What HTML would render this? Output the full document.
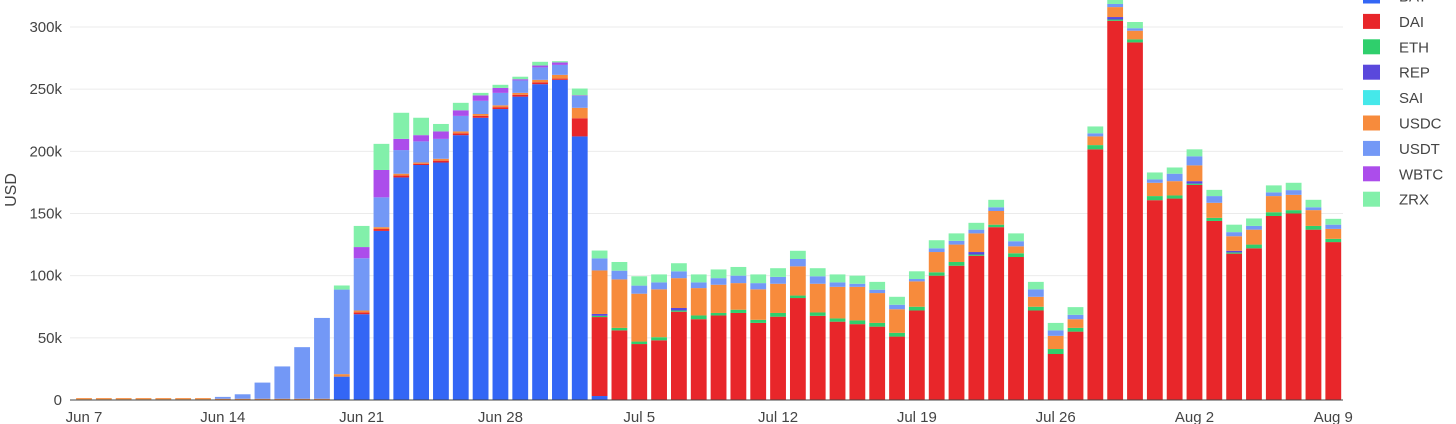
<!DOCTYPE html>
<html><head><meta charset="utf-8"><style>
html,body{margin:0;padding:0;background:#fff;width:1456px;height:424px;overflow:hidden}
svg text{font-family:"Liberation Sans","DejaVu Sans",sans-serif;fill:#444}
</style></head><body>
<svg id="chart" width="1456" height="424" xmlns="http://www.w3.org/2000/svg">
<g id="grid"></g>
<g id="bars"></g>
<g id="axes"></g>
<g id="legend"></g>
<text transform="translate(16,190) rotate(-90)" text-anchor="middle" font-size="16">USD</text>
</svg>
<script>
const seriesNames = ["BAT","DAI","ETH","REP","SAI","USDC","USDT","WBTC","ZRX"];
const seriesColors = ["#3366f5","#e8262a","#2fcf6c","#5a48dc","#45e8ea","#f78b3c","#7398f6","#ac4deb","#82f0aa"];
const xTickLabels = ["Jun 7","Jun 14","Jun 21","Jun 28","Jul 5","Jul 12","Jul 19","Jul 26","Aug 2","Aug 9"];
const yTickValues = [0,50,100,150,200,250,300];
const yTickLabels = ["0","50k","100k","150k","200k","250k","300k"];
const BAT = [0,0,0,0,0,0,0,0,0,0,0,0,0,18.8,69,136,179,189,191,213,227,234,244,254,257.5,212,3.2,0,0,0,0,0,0,0,0,0,0,0,0,0,0,0,0,0,0,0,0,0,0,0,0,0,0,0,0,0,0,0,0,0,0,0,0,0];
const DAI = [0,0,0,0,0,0,0,0,0,0,0,0,0,0,1.5,1.5,1.5,1,1.5,1.5,1.5,1.5,1.5,1.5,1,14.6,63.5,56,45,48,71,65,68,70,62,67,82,67.7,63,61,59,51,72,100,108,116,139,115,72,37,55,201.6,305,287.6,160.7,162,173,144,117.7,122,148,150,137,127];
const ETH = [0.5,0.5,0.5,0.5,0.5,0.5,0.5,0,0,0,0,0,0,0,0,0,0,0,0,0,0,0,0,0,0,0,1,2,2,2.5,1,3,2,2.6,2.5,3,2,2.7,2.6,3,3,3,3,2.7,3,1,2,3,3,4,3,3.4,1,2.4,3.3,2.5,1,2.5,1,3,3,2.7,3,2.6];
const REP = [0,0,0,0,0,0,0,0,0,0,0,0,0,0,0,0,0,0,0,0,0,0,0,0,0,0,1.5,0,0,0,2,0,0,0,0,0,0,0,0,0,0,0,0,0,0,2,0,0,0,0,0,0,2,0,0,0,2,0,1.3,0,0,0,0,0];
const SAI = [0,0,0,0,0,0,0,0,0,0,0,0,0,0,0,0,0,0,0,0,0,0,0,0,0,0,0,0,0,0,0,0,0,0,0,0,0,0,0,0,0,0,0,0,0,0,0,0,0,0,0,0,0,0,0,0,0,0,0,0,0,0,0,0];
const USDC = [1,1,1,1,1,1,1,1,1,1,1,1,1,2,1.5,1.5,1.5,1,1.5,1.5,1.5,1.5,1.5,2,3,8.4,35,39,38.5,38.5,24,22,22.7,21.4,24.5,23.5,23.5,23.1,25.4,27,24,19,20.4,16.3,14,15,11,5.6,8,10.6,7,7,8,7,10.7,11.5,12.7,12.1,11.7,12,13,12.3,12.7,8];
const USDT = [0,0,0,0,0,0,0,1.5,3.6,13,26,41.5,65,68,42,24,19,17,16,12.5,10.6,10,10,10,8,9.6,9.7,7,6.5,5.6,5.5,4.6,5.3,6,5,5.5,5.9,6,3.6,2.5,2.7,3.6,1.9,3,3,3,3,4.1,6,4.4,3.5,2.5,2.5,2,2.7,6,7.3,5.4,3.3,3,3,3.8,2.3,3.4];
const WBTC = [0,0,0,0,0,0,0,0,0,0,0,0,0,0,9,22,9,5,6,4.5,4.4,4,1,1.5,2,0.4,0,0,0,0,0,0,0,0,0,0,0,0,0,0,0,0,0,0,0,0,0,0,0,0,0,0,0,0,0,0,0,0,0,0,0,0,0,0];
const ZRX = [0,0,0,0,0,0,0,0,0,0,0,0,0,3.3,17,21,21,14,6,6,2,2.5,2,3,1,5.5,6.3,7,7.5,6.4,6.5,6.4,7,7,7,7,6.6,6.5,6.4,6.5,6.3,6.4,6.2,6.5,6,5.5,6,6.3,6,6,6.2,5.5,3.5,5,5.6,5,5.6,5,6,6,5.6,5.9,6,4.7];
const seriesValues = [BAT,DAI,ETH,REP,SAI,USDC,USDT,WBTC,ZRX];

const NS="http://www.w3.org/2000/svg";
const x0=84, dx=19.83, y0=400, yTop=0, yMax=321.7, barW=15.8, plotL=70, plotR=1343;
function xScale(i){return x0+i*dx;}
function yScale(v){return y0-(v/yMax)*(y0-yTop);}
function mk(tag,attrs,parent){const e=document.createElementNS(NS,tag);for(const k in attrs)e.setAttribute(k,attrs[k]);parent.appendChild(e);return e;}

const grid=document.getElementById('grid'), bars=document.getElementById('bars'), axes=document.getElementById('axes'), legend=document.getElementById('legend');
yTickValues.forEach((v,k)=>{
  const y=yScale(v);
  if(v>0){const l=mk('line',{x1:plotL,x2:plotR,y1:y,y2:y,stroke:'#ebebeb','stroke-width':1},grid);
  
  }
  const t=mk('text',{x:62,y:y+5,'text-anchor':'end','font-size':15},axes);
  t.textContent=yTickLabels[k];
  
  
});
const n=BAT.length;
for(let i=0;i<n;i++){
  let acc=0;
  seriesValues.forEach((arr,s)=>{
    const v=arr[i]; if(!v) return;
    const yb=yScale(acc), yt=yScale(acc+v); acc+=v;
    const r=mk('rect',{x:xScale(i)-barW/2,y:yt,width:barW,height:Math.max(yb-yt,0.6),fill:seriesColors[s]},bars);
    
    
  });
}
const zl=mk('line',{x1:plotL,x2:plotR,y1:y0,y2:y0,stroke:'#444','stroke-width':1},axes);


xTickLabels.forEach((lab,k)=>{
  const t=mk('text',{x:xScale(k*7),y:422,'text-anchor':'middle','font-size':15},axes);
  t.textContent=lab;
  
  
});
seriesNames.forEach((nm,s)=>{
  const cy=-4+s*25.4;
  const g=mk('g',{},legend);
  
  
  mk('rect',{x:1363,y:cy-7.5,width:17,height:15,fill:seriesColors[s]},g);
  const t=mk('text',{x:1399,y:cy+5.5,'font-size':15},g);
  t.textContent=nm;
});
</script>
</body></html>
